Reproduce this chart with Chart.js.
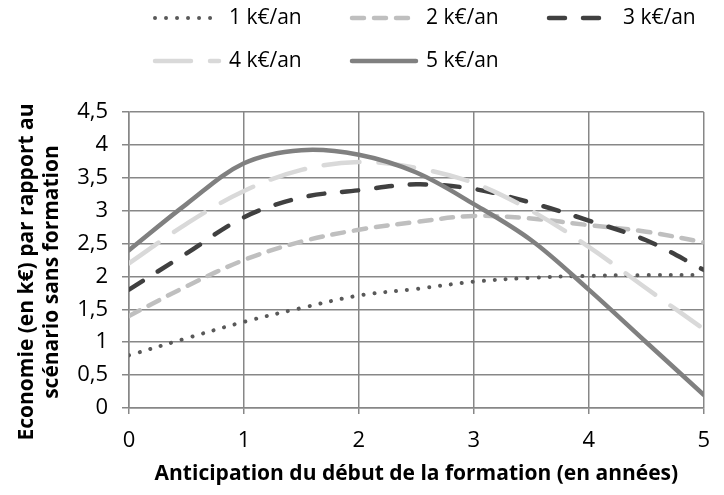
<!DOCTYPE html>
<html>
<head>
<meta charset="utf-8">
<script src="https://cdn.jsdelivr.net/npm/chart.js@4.4.1/dist/chart.umd.min.js"></script>
<style>
  html, body { margin: 0; padding: 0; background: #fff; }
  #wrap { width: 724px; height: 495px; }
</style>
</head>
<body>
<div id="wrap"><canvas id="chart" width="724" height="495"></canvas></div>
<script>
// Anticipation du début de la formation (années)
var years = [0, 0.5, 1, 1.5, 2, 2.5, 3, 3.5, 4, 4.5, 5];

// Economie (k€) pour chaque coût annuel
var eco1 = [0.80, 1.06, 1.31, 1.52, 1.71, 1.81, 1.92, 1.98, 2.01, 2.02, 2.02];
var eco2 = [1.40, 1.85, 2.25, 2.53, 2.71, 2.83, 2.92, 2.88, 2.78, 2.68, 2.52];
var eco3 = [1.80, 2.35, 2.90, 3.20, 3.31, 3.40, 3.33, 3.12, 2.85, 2.55, 2.10];
var eco4 = [2.20, 2.80, 3.30, 3.62, 3.74, 3.65, 3.42, 3.00, 2.45, 1.82, 1.20];
var eco5 = [2.40, 3.10, 3.72, 3.92, 3.85, 3.58, 3.10, 2.55, 1.80, 1.00, 0.20];

var seriesLabels = ["1 k€/an", "2 k€/an", "3 k€/an", "4 k€/an", "5 k€/an"];
var yTitle = ["Economie (en k€) par rapport au", "scénario sans formation"];
var xTitle = "Anticipation du début de la formation (en années)";

function points(vals) {
  return vals.map(function (v, i) { return { x: years[i], y: v }; });
}

function frNum(v) {
  return String(v).replace(".", ",");
}

// Légende et titre vertical dessinés à la main (disposition Excel)
var overlay = {
  id: "overlay",
  afterDraw: function (chart) {
    var ctx = chart.ctx;
    var colX = [155, 352, 549];
    var rowY = [18, 61];
    ctx.save();
    chart.data.datasets.forEach(function (ds, i) {
      var x = colX[i % 3], y = rowY[Math.floor(i / 3)];
      ctx.strokeStyle = ds.borderColor;
      ctx.lineWidth = ds.borderWidth;
      ctx.lineCap = ds.borderCapStyle;
      ctx.setLineDash(ds.borderDash);
      ctx.beginPath();
      ctx.moveTo(x, y);
      ctx.lineTo(x + 64, y);
      ctx.stroke();
      ctx.setLineDash([]);
      ctx.fillStyle = "#000";
      ctx.font = "21px 'Open Sans', sans-serif";
      ctx.textBaseline = "middle";
      ctx.textAlign = "left";
      ctx.fillText(ds.label, x + 74, y);
    });

    ctx.font = "bold 21px 'Open Sans', sans-serif";
    ctx.textAlign = "center";
    ctx.textBaseline = "middle";
    ctx.fillStyle = "#000";
    [27, 52].forEach(function (lx, i) {
      ctx.save();
      ctx.translate(lx, 272);
      ctx.rotate(-Math.PI / 2);
      ctx.fillText(yTitle[i], 0, 0);
      ctx.restore();
    });
    ctx.restore();
  }
};

var styles = [
  { color: "#595959", dash: [0.01, 11], width: 4 },
  { color: "#bfbfbf", dash: [12, 10], width: 4.5 },
  { color: "#404040", dash: [16, 18], width: 4.5 },
  { color: "#d9d9d9", dash: [36, 19], width: 4.5 },
  { color: "#808080", dash: [], width: 4.5 }
];
var allSeries = [eco1, eco2, eco3, eco4, eco5];

var ctx = document.getElementById("chart").getContext("2d");
var chart = new Chart(ctx, {
  type: "line",
  data: {
    datasets: allSeries.map(function (vals, i) {
      return {
        label: seriesLabels[i],
        data: points(vals),
        borderColor: styles[i].color,
        borderWidth: styles[i].width,
        borderDash: styles[i].dash,
        borderCapStyle: "round",
        borderJoinStyle: "round",
        pointRadius: 0,
        tension: 0.35,
        fill: false,
        order: 5 - i
      };
    })
  },
  options: {
    responsive: false,
    animation: false,
    layout: { padding: { top: 112, right: 8, bottom: 0, left: 0 } },
    plugins: {
      legend: { display: false },
      tooltip: { enabled: false }
    },
    scales: {
      x: {
        type: "linear",
        min: 0,
        max: 5,
        ticks: {
          stepSize: 1,
          padding: 14,
          color: "#000",
          font: { family: "'Open Sans'", size: 22 }
        },
        grid: { color: "#878787", lineWidth: 1.5, tickLength: 6 },
        border: { color: "#878787", width: 1.5 },
        title: {
          display: true,
          text: xTitle,
          color: "#000",
          font: { family: "'Open Sans'", size: 21, weight: "bold" },
          padding: { top: 4, bottom: 8 }
        },
        afterFit: function (scale) { scale.height = 87; }
      },
      y: {
        min: 0,
        max: 4.5,
        ticks: {
          stepSize: 0.5,
          padding: 14,
          color: "#000",
          font: { family: "'Open Sans'", size: 22 },
          callback: function (v) { return frNum(v); }
        },
        grid: { color: "#878787", lineWidth: 1.5, tickLength: 7 },
        border: { color: "#878787", width: 1.5 },
        afterFit: function (scale) { scale.width = 129; }
      }
    }
  },
  plugins: [overlay]
});
</script>
</body>
</html>
